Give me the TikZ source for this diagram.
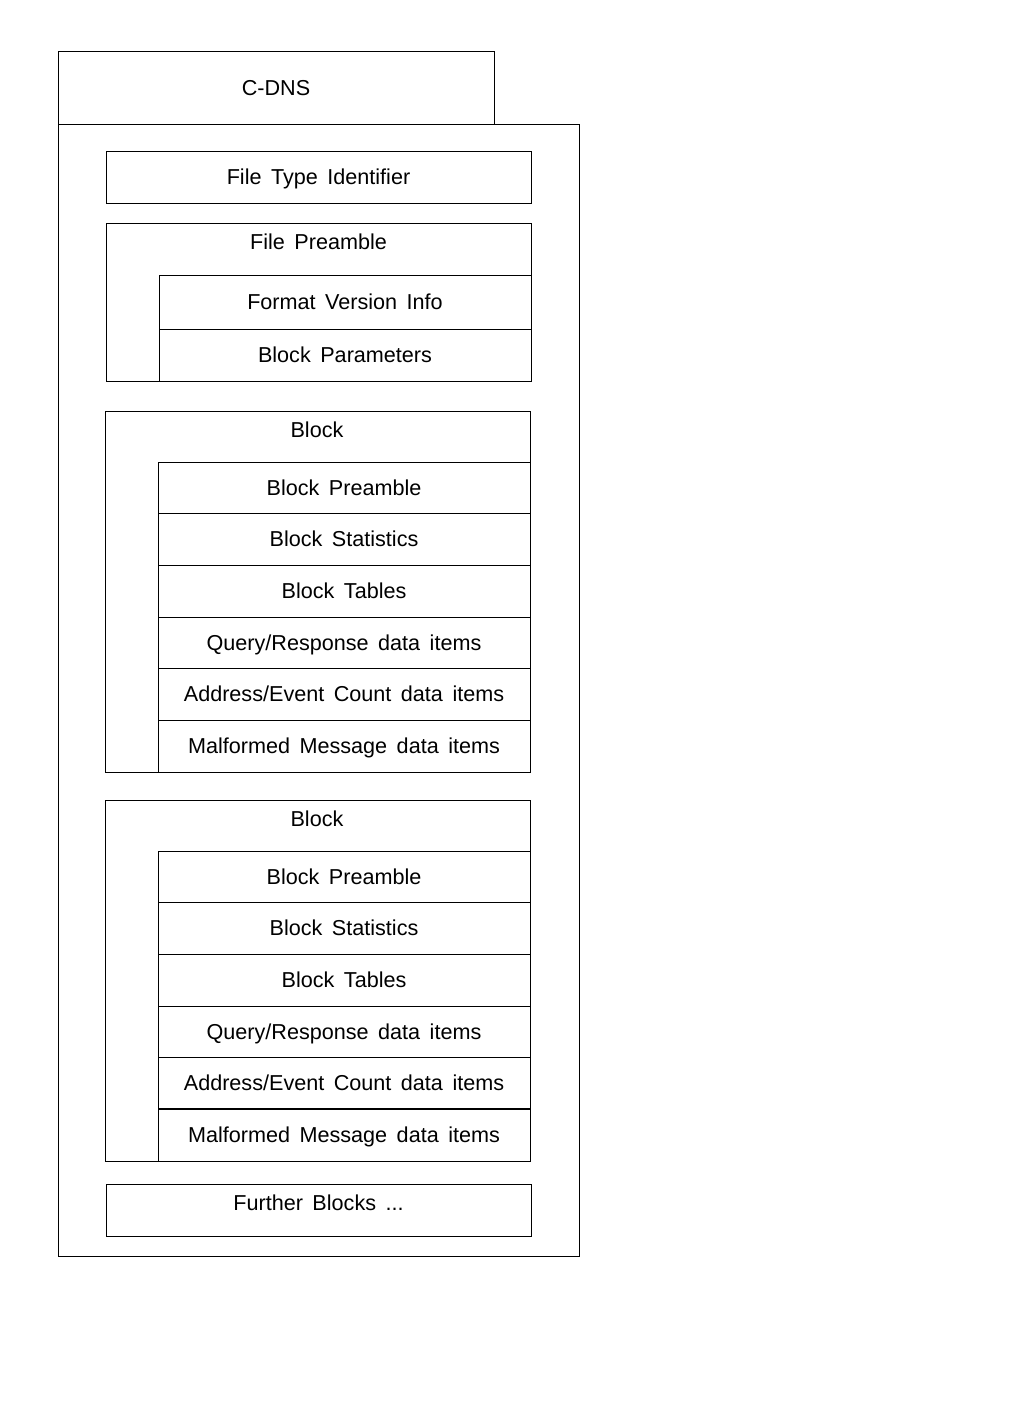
\documentclass[tikz,border=0pt]{standalone}
\usepackage{fontspec}
\setmainfont{Liberation Sans}

\newcommand{\cdnsfont}{\fontsize{10.8}{13}\selectfont\spaceskip=0.44em plus 0.1em\relax}
\tikzset{
  lbl/.style={inner sep=0pt,text height=1.6ex,text depth=0.2ex,font=\cdnsfont},
}

\begin{document}
\begin{tikzpicture}[x=0.5pt,y=-0.5pt,line width=0.5pt]
    \useasboundingbox (0,0) rectangle (1009,1426);

    % outer C-DNS frame with its tab
    \draw (58,124) -- (58,51) -- (494,51) -- (494,124);
    \draw (58,124) rectangle (579,1256);
    \node[lbl] (cdns) at (276,88) {C-DNS};

    \draw (106,151) rectangle (531,203);
    \node[lbl] (ftype) at (318.5,177) {File Type Identifier};

    % file preamble
    \draw (106,223) rectangle (531,381);
    \node[lbl] (fpre) at (318.5,242) {File Preamble};
    \draw (159,275) rectangle (531,329);
    \draw (159,329) rectangle (531,381);
    \node[lbl] (fver) at (345,302) {Format Version Info};
    \node[lbl] (bpar) at (345,355) {Block Parameters};

    % two blocks
    \foreach \b/\y in {1/411,2/800} {
        \draw (105,\y) rectangle (530,{\y+361});
        \node[lbl] (blk\b) at (317,{\y+19}) {Block};
        \foreach \t [count=\k from 0] in {Block Preamble,Block Statistics,Block Tables,
                Query/Response data items,Address/Event Count data items,Malformed Message data items} {
            \draw (158,{\y+51+51.67*\k}) rectangle (530,{\y+51+51.67*(\k+1)});
            \node[lbl] (blk\b-\k) at (344,{\y+51+51.67*(\k+0.5)}) {\t};
        }
    }
    \draw[line width=1pt] (158,1109) -- (530,1109);

    \draw (106,1184) rectangle (531,1236);
    \node[lbl] (further) at (318.5,1203) {Further Blocks ...};
\end{tikzpicture}
\end{document}
